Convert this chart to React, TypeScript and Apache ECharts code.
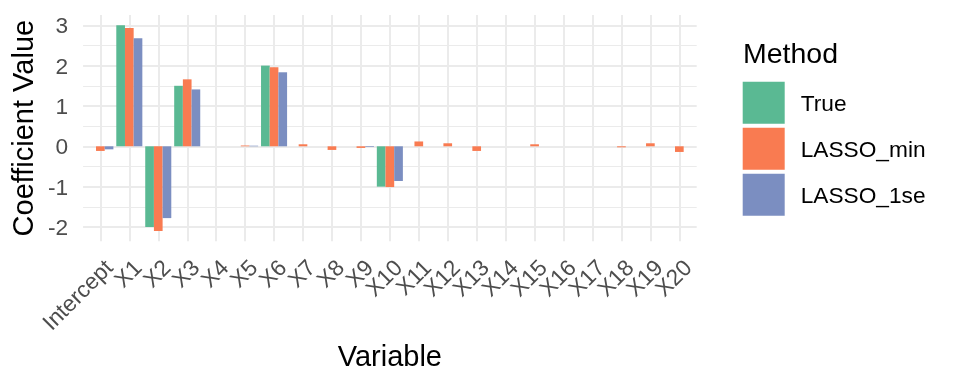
import React, { useEffect, useRef } from 'react';
import * as echarts from 'echarts';

const categories = ['Intercept', 'X1', 'X2', 'X3', 'X4', 'X5', 'X6', 'X7', 'X8', 'X9', 'X10',
  'X11', 'X12', 'X13', 'X14', 'X15', 'X16', 'X17', 'X18', 'X19', 'X20'];
const methods = ['True', 'LASSO_min', 'LASSO_1se'];
const trueValues = [0, 3, -2, 1.5, 0, 0, 2, 0, 0, 0, -1, 0, 0, 0, 0, 0, 0, 0, 0, 0, 0];
const lassoMinValues = [-0.115, 2.93, -2.1, 1.66, 0, 0.02, 1.96, 0.05, -0.09, -0.04, -1.01,
  0.12, 0.075, -0.115, 0, 0.05, 0, 0, -0.025, 0.075, -0.14];
const lasso1seValues = [-0.075, 2.68, -1.78, 1.41, 0, 0.015, 1.835, 0, 0, -0.017, -0.86,
  0, 0, 0, 0, 0, 0, 0, 0, 0, 0];
const colors = ['#5AB993', '#F97B51', '#7B8EC1'];

const FONT = '"Liberation Sans", Arial, Helvetica, sans-serif';
const GRID = '#EBEBEB';

export default function App() {
  const ref = useRef<HTMLDivElement>(null);
  useEffect(() => {
    if (!ref.current) return;
    const chart = echarts.init(ref.current, null, { renderer: 'svg' });
    const all = [...trueValues, ...lassoMinValues, ...lasso1seValues];
    const dMin = Math.min(...all);
    const dMax = Math.max(...all);
    const span = dMax - dMin;
    const yMin = dMin - 0.05 * span;
    const yMax = dMax + 0.05 * span;
    const n = categories.length;

    const left = 83;
    const top = 15;
    const width = 613.7;
    const height = 226.3;
    const unit = width / (n - 1 + 1.2);

    const seriesData = [trueValues, lassoMinValues, lasso1seValues];

    chart.setOption({
      animation: false,
      textStyle: { fontFamily: FONT },
      grid: [
        { left, top, width, height, containLabel: false },
        { left: left + 0.1 * unit, top, width: n * unit, height, containLabel: false },
      ],
      xAxis: [
        {
          type: 'value', gridIndex: 0, min: -0.6, max: n - 1 + 0.6, splitNumber: n,
          axisLine: { show: false }, axisTick: { show: false }, axisLabel: { show: false },
          splitLine: { show: true, showMinLine: false, showMaxLine: false, lineStyle: { color: GRID, width: 2 } },
        },
        {
          type: 'category', gridIndex: 1, data: categories, boundaryGap: true,
          axisLine: { show: false }, axisTick: { show: false }, splitLine: { show: false },
          axisLabel: {
            interval: 0, rotate: 45, align: 'right', verticalAlign: 'top', margin: 14,
            fontSize: 22.7, color: '#4D4D4D', fontFamily: FONT,
          },
          name: 'Variable', nameLocation: 'middle', nameGap: 99,
          nameTextStyle: { fontSize: 29, color: '#000', fontFamily: FONT },
        },
      ],
      yAxis: [
        {
          type: 'value', gridIndex: 0, min: yMin, max: yMax,
          axisLine: { show: false }, axisTick: { show: false },
          axisLabel: { fontSize: 22.7, color: '#4D4D4D', margin: 15, showMinLabel: false, showMaxLabel: false, fontFamily: FONT },
          splitLine: { show: true, showMinLine: false, showMaxLine: false, lineStyle: { color: GRID, width: 2 } },
          minorTick: { show: false, splitNumber: 2 },
          minorSplitLine: { show: true, lineStyle: { color: GRID, width: 1 } },
          name: 'Coefficient Value', nameLocation: 'middle', nameGap: 44, nameRotate: 90,
          nameTextStyle: { fontSize: 29, color: '#000', fontFamily: FONT },
        },
        {
          type: 'value', gridIndex: 1, min: yMin, max: yMax, show: false,
          splitLine: { show: false },
        },
      ],
      legend: {
        data: methods, orient: 'vertical', left: 742.7, top: 81.7, padding: 0,
        itemWidth: 42, itemHeight: 42, itemGap: 4, icon: 'rect', selectedMode: false,
        textStyle: { fontSize: 22.7, color: '#000', fontFamily: FONT, padding: [0, 0, 0, 11] },
      },
      graphic: [
        {
          type: 'text', left: 743, top: 38,
          style: { text: 'Method', fontSize: 28.5, fill: '#000', fontFamily: FONT },
        },
      ],
      series: methods.map((m, i) => ({
        name: m, type: 'bar', xAxisIndex: 1, yAxisIndex: 1, data: seriesData[i],
        barGap: '0%', barCategoryGap: '10%', itemStyle: { color: colors[i] },
      })),
    });
    return () => chart.dispose();
  }, []);
  return <div ref={ref} style={{ position: 'fixed', left: 0, top: 0, width: 960, height: 384 }} />;
}
